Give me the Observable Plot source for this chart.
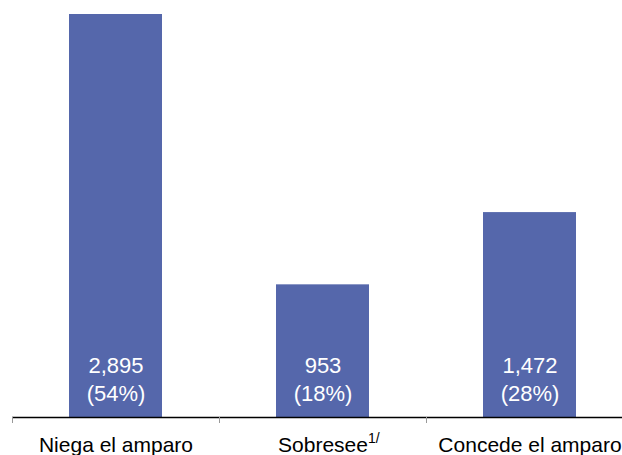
<!DOCTYPE html>
<html>
<head>
<meta charset="utf-8">
<script src="https://cdn.jsdelivr.net/npm/d3@7"></script>
<script src="https://cdn.jsdelivr.net/npm/@observablehq/plot@0.6"></script>
<style>
  html, body { margin: 0; padding: 0; background: #fff; }
  #chart svg { display: block; }
</style>
</head>
<body>
<div id="chart"></div>
<script>
// Resolutions by outcome: count and share of total
const categories = ["Niega el amparo", "Sobresee", "Concede el amparo"];
const counts = [2895, 953, 1472];
const shares = ["54%", "18%", "28%"];
const footnote = { category: "Sobresee", mark: "1/" };

const rows = categories.map((c, i) => ({ category: c, count: counts[i], share: shares[i] }));

const font = "'Liberation Sans', Arial, Helvetica, sans-serif";
const xRange = [12, 633];
const step = (xRange[1] - xRange[0]) / categories.length;

const chart = Plot.plot({
  width: 622,
  height: 455,
  marginLeft: 12,
  marginRight: 0,
  marginTop: 14,
  marginBottom: 38,
  style: { fontFamily: font, background: "#fff" },
  x: { domain: categories, range: xRange, paddingInner: 0.55, paddingOuter: 0.275, axis: null },
  y: { domain: [0, d3.max(counts)], axis: null },
  marks: [
    Plot.barY(rows, { x: "category", y: "count", fill: "#5567ab" }),
    Plot.ruleY([0], { stroke: "#000", strokeWidth: 1.3 }),
    Plot.ruleX(categories, { x: (d) => d, y1: 0, y2: 0, insetBottom: -6, dx: -step / 2, stroke: "#999", strokeWidth: 1 }),
    Plot.text(rows, {
      x: "category",
      y: 0,
      text: (d) => `${d3.format(",")(d.count)}\n(${d.share})`,
      lineAnchor: "bottom",
      lineHeight: 1.23,
      dy: -17,
      fill: "#fff",
      fontSize: 22,
      textAnchor: "middle"
    }),
    Plot.text(categories, {
      x: (d) => d,
      y: 0,
      text: (d) => d,
      lineAnchor: "bottom",
      dy: 34,
      fill: "#000",
      fontSize: 21,
      textAnchor: "middle",
      className: "cat-label"
    })
  ]
});

document.getElementById("chart").append(chart);

// Superscript footnote marker, keeping the base word centred under its bar
d3.select(chart).selectAll(".cat-label text").each(function () {
  if (this.textContent !== footnote.category) return;
  const before = this.getComputedTextLength();
  d3.select(this).append("tspan")
    .attr("dy", -9)
    .attr("font-size", 14)
    .text(footnote.mark);
  const after = this.getComputedTextLength();
  const x = +this.getAttribute("x") || 0;
  this.setAttribute("x", x + (after - before) / 2);
});
</script>
</body>
</html>
